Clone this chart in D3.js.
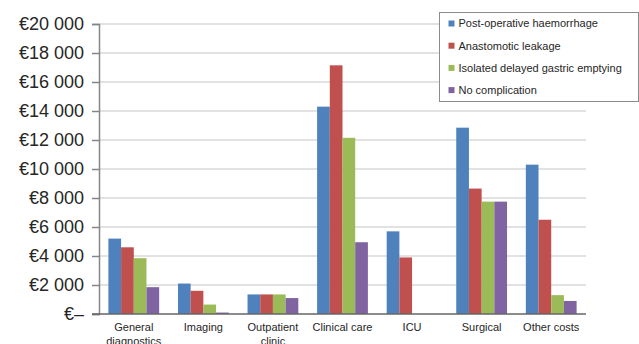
<!DOCTYPE html>
<html>
<head>
<meta charset="utf-8">
<script src="https://cdn.jsdelivr.net/npm/d3@7"></script>
<style>
  html, body { margin: 0; padding: 0; background: #fff; }
  svg { display: block; }
</style>
</head>
<body>
<svg id="chart" width="639" height="344"></svg>
<script>
// Cost categories (x axis), with line breaks for wrapped labels
const categories = [
  ["General", "diagnostics"],
  ["Imaging"],
  ["Outpatient", "clinic"],
  ["Clinical care"],
  ["ICU"],
  ["Surgical"],
  ["Other costs"]
];

// Series names and their colours
const seriesNames = [
  "Post-operative haemorrhage",
  "Anastomotic leakage",
  "Isolated delayed gastric emptying",
  "No complication"
];
const seriesColors = ["#4F81BD", "#C0504D", "#9BBB59", "#8064A2"];

// Mean cost per category (EUR), one array per series
const haemorrhage = [5200, 2100, 1350, 14300, 5700, 12850, 10300];
const leakage     = [4600, 1600, 1350, 17150, 3900,  8650,  6500];
const gastric     = [3850,  650, 1350, 12150,    0,  7750,  1300];
const noComp      = [1850,  100, 1100,  4950,    0,  7750,   900];
const seriesValues = [haemorrhage, leakage, gastric, noComp];

// Y axis ticks
const yTicks = [0, 2000, 4000, 6000, 8000, 10000, 12000, 14000, 16000, 18000, 20000];

const svg = d3.select("#chart");
const plotLeft = 99, plotRight = 586, plotTop = 24, plotBottom = 314;

const x = d3.scaleBand()
  .domain(d3.range(categories.length))
  .range([plotLeft, plotRight])
  .paddingInner(0.27)
  .paddingOuter(0.135);

const xs = d3.scaleBand()
  .domain(d3.range(seriesNames.length))
  .range([0, x.bandwidth()]);

const y = d3.scaleLinear().domain([0, 20000]).range([plotBottom, plotTop]);

const fmt = v => v === 0 ? "€–" : "€" + d3.format(",")(v).replace(/,/g, " ");

// Gridlines
svg.append("g")
  .selectAll("line")
  .data(yTicks.filter(t => t > 0))
  .join("line")
  .attr("x1", plotLeft).attr("x2", plotRight)
  .attr("y1", d => y(d)).attr("y2", d => y(d))
  .attr("stroke", "#d9d9d9")
  .attr("stroke-width", 1.5);

// Bars
const groups = svg.append("g")
  .selectAll("g")
  .data(seriesValues)
  .join("g")
  .attr("fill", (d, i) => seriesColors[i]);

groups.each(function(vals, si) {
  d3.select(this).selectAll("rect")
    .data(vals)
    .join("rect")
    .attr("x", (d, ci) => x(ci) + xs(si))
    .attr("width", xs.bandwidth())
    .attr("y", d => y(d))
    .attr("height", d => plotBottom - y(d));
});

// Y axis
const yAxis = d3.axisLeft(y)
  .tickValues(yTicks)
  .tickFormat(fmt)
  .tickSize(7)
  .tickPadding(8);

const yg = svg.append("g")
  .attr("transform", `translate(${plotLeft},0)`)
  .call(yAxis);
yg.select(".domain").attr("stroke", "#868686").attr("stroke-width", 1.5);
yg.selectAll(".tick line").attr("stroke", "#868686").attr("stroke-width", 1.5);
yg.selectAll(".tick text")
  .attr("font-family", "Liberation Sans, Arial, sans-serif")
  .attr("font-size", 18)
  .attr("fill", "#262626");

// X axis line
svg.append("line")
  .attr("x1", plotLeft - 7).attr("x2", plotRight)
  .attr("y1", plotBottom).attr("y2", plotBottom)
  .attr("stroke", "#666")
  .attr("stroke-width", 1.5);

// Category labels
const xl = svg.append("g")
  .attr("font-family", "Liberation Sans, Arial, sans-serif")
  .attr("font-size", 11)
  .attr("fill", "#262626")
  .attr("text-anchor", "middle");

categories.forEach((lines, ci) => {
  const t = xl.append("text")
    .attr("x", x(ci) + x.bandwidth() / 2)
    .attr("y", 331);
  lines.forEach((ln, li) => {
    t.append("tspan")
      .attr("x", x(ci) + x.bandwidth() / 2)
      .attr("dy", li === 0 ? 0 : 13.5)
      .text(ln);
  });
});

// Legend
const lg = svg.append("g").attr("transform", "translate(439.5,12.5)");
lg.append("rect")
  .attr("width", 199).attr("height", 89)
  .attr("fill", "#fff")
  .attr("stroke", "#8c8c8c")
  .attr("stroke-width", 1);

const items = lg.selectAll("g.item")
  .data(seriesNames)
  .join("g")
  .attr("class", "item")
  .attr("transform", (d, i) => `translate(9,${11 + i * 22.2})`);

items.append("rect")
  .attr("x", 0).attr("y", -3)
  .attr("width", 6).attr("height", 6)
  .attr("fill", (d, i) => seriesColors[i]);

items.append("text")
  .attr("x", 10)
  .attr("y", 0)
  .attr("dy", "0.35em")
  .attr("font-family", "Liberation Sans, Arial, sans-serif")
  .attr("font-size", 11)
  .attr("fill", "#262626")
  .text(d => d);
</script>
</body>
</html>
